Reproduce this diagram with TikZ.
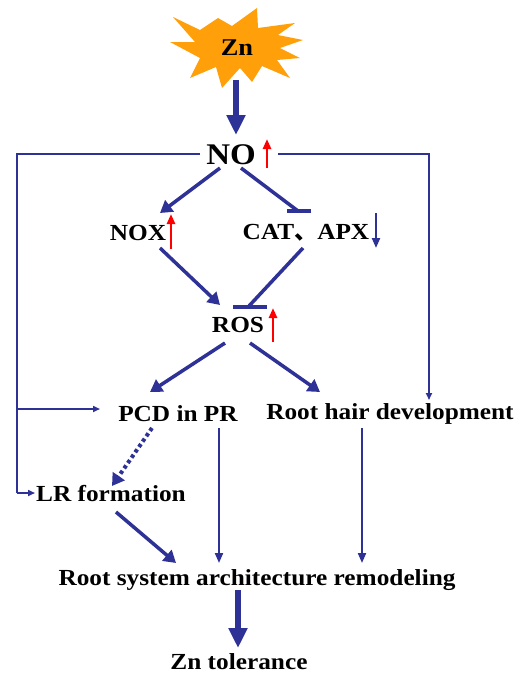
\documentclass[tikz,border=0pt]{standalone}
\usepackage{fontspec}
\setmainfont[FakeStretch=1.1]{Liberation Serif}
\newfontfamily\cjk{Noto Sans CJK SC}
\usetikzlibrary{arrows.meta,calc}
\definecolor{pblue}{RGB}{46,49,150}
\definecolor{porange}{RGB}{255,160,10}
\begin{document}
\begin{tikzpicture}[x=1pt,y=-1pt,
  lbl/.style={inner sep=0pt,font=\fontsize{23}{26}\selectfont\bfseries},
  thin/.style={draw=pblue,line width=1.6pt,-{Triangle[length=7pt,width=6pt]}},
  thinline/.style={draw=pblue,line width=1.6pt},
  mid/.style={draw=pblue,line width=3.5pt,-{Triangle[length=12pt,width=14pt]}},
  vert/.style={draw=pblue,line width=2pt,-{Triangle[length=10pt,width=8pt]}},
  inhib/.style={draw=pblue,line width=3.5pt},
  bigarrow/.style={draw=pblue,line width=6pt,-{Triangle[length=20pt,width=18pt]}},
  redup/.style={draw=red,line width=2.5pt,-{Triangle[length=10pt,width=8pt]}},
  bluedown/.style={draw=pblue,line width=2.2pt,-{Triangle[length=10pt,width=8pt]}}]
\useasboundingbox[fill=white] (0,0) rectangle (530,675);
% starburst
\fill[porange] (173,17) -- (200,30) -- (218,18) -- (232,26) -- (257,8) -- (258,28)
  -- (295,23) -- (278,35) -- (303,40) -- (280,48) -- (300,58) -- (277,60)
  -- (290,78) -- (262,66) -- (252,82) -- (240,68) -- (222,88) -- (216,67)
  -- (190,78) -- (200,58) -- (170,42) -- (195,42) -- cycle;
\node[lbl,font=\fontsize{24}{26}\selectfont\bfseries] (zn) at (237,48) {Zn};
\node[lbl,font=\fontsize{30}{34}\selectfont\bfseries] (no) at (231,155) {NO};
\node[lbl] (nox) at (138,233) {NOX};
\node[lbl] (cat) at (306,233) {CAT{\cjk 、}APX};
\node[lbl] (ros) at (238,325) {ROS};
\node[lbl] (pcd) at (178,414) {PCD in PR};
\node[lbl] (rh) at (390,414) {Root hair development};
\node[lbl] (lr) at (111,494) {LR formation};
\node[lbl] (rsa) at (257,580) {Root system architecture remodeling};
\node[lbl] (tol) at (239,662) {Zn tolerance};
% coordinates
\coordinate (znb) at (236,80);
\coordinate (not) at (236,135);
\coordinate (nol) at (200,154);
\coordinate (nor) at (278,154);
\coordinate (lc) at (17,154);
\coordinate (lb) at (17,493);
\coordinate (lm) at (17,409);
\coordinate (pcdl) at (100,409);
\coordinate (lrl) at (35,493);
\coordinate (rc) at (429,154);
\coordinate (rht) at (429,400);
% red / blue indicator arrows
\draw[redup] (267,168) -- (267,139);
\draw[redup] (171,249) -- (171,214);
\draw[bluedown] (376,213) -- (376,248);
\draw[redup] (273,342) -- (273,308);
% main
\draw[bigarrow] (znb) -- (not);
\draw[thinline] (nol) -- (lc) -- (lb);
\draw[thin] (lm) -- (pcdl);
\draw[thin] (lb) -- (lrl);
\draw[thin] (nor) -- (rc) -- (rht);
\draw[mid] (220,168) -- (160,213);
\draw[inhib] (241,168) -- (298,211);
\draw[inhib] (287,211) -- (311,211);
\draw[mid] (160,248) -- (220,305);
\draw[inhib] (303,248) -- (249,306);
\draw[inhib] (233,307) -- (267,307);
\draw[mid] (225,343) -- (150,392);
\draw[mid] (250,343) -- (320,392);
\draw[draw=pblue,line width=4pt,dash pattern=on 3.5pt off 3pt,-{Triangle[length=12pt,width=14pt]}] (152,428) -- (112,486);
\draw[vert] (219,428) -- (219,563);
\draw[vert] (362,428) -- (362,563);
\draw[mid] (116,512) -- (176,563);
\draw[bigarrow] (238,590) -- (238,648);
\end{tikzpicture}
\end{document}
